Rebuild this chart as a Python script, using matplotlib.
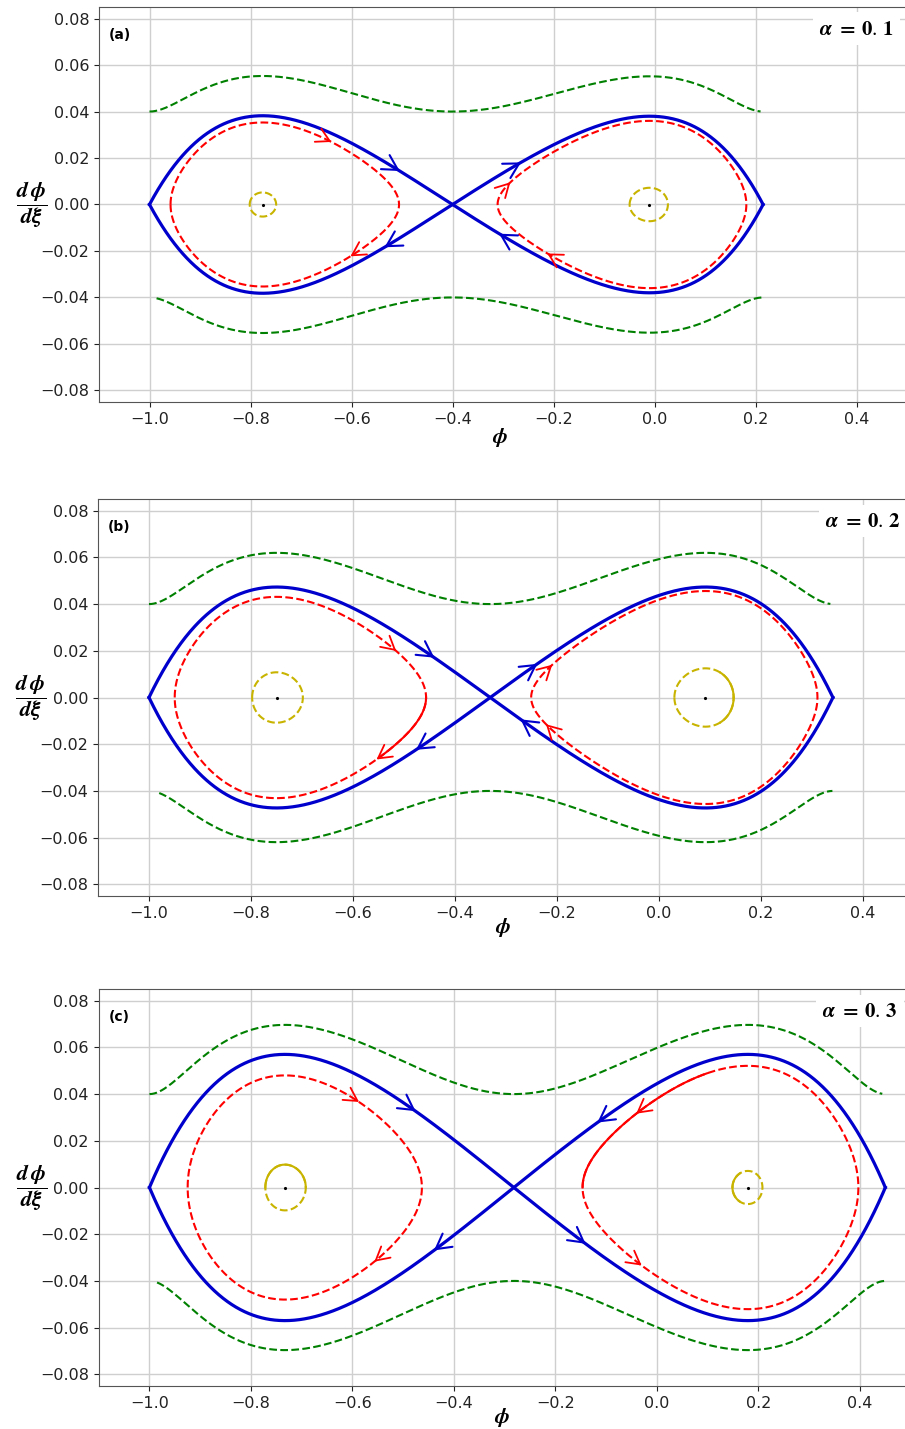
import numpy as np
import matplotlib
matplotlib.use('Agg')
import matplotlib.pyplot as plt
from numpy.polynomial import Polynomial

plt.rcParams['mathtext.fontset'] = 'stix'

# phase portraits for three values of alpha
alphas = ['0.1', '0.2', '0.3']
tags = ['(a)', '(b)', '(c)']

left_root = -1.0
saddle = [-0.400, -0.331, -0.282]
right_root = [0.215, 0.341, 0.450]
centre_left = [-0.776, -0.750, -0.733]
centre_right = [-0.010, 0.091, 0.179]
peak_left = [0.0382, 0.0473, 0.0570]
peak_right = [0.0380, 0.0473, 0.0570]

# outer (unbounded) orbits: |dphi/dxi| at the ends and at the saddle
outer_level = [0.040, 0.040, 0.040]
outer_top_span = [(-1.0, 0.210), (-1.0, 0.336), (-1.0, 0.444)]
outer_bot_span = [(-0.986, 0.212), (-0.980, 0.340), (-0.985, 0.450)]

# inner closed orbits (peak height) and small orbits round the centres (half height)
inner_left = [0.0353, 0.0431, 0.0480]
inner_right = [0.0360, 0.0456, 0.0521]
small_left = [0.0052, 0.0108, 0.0098]
small_right = [0.0072, 0.0125, 0.0071]

# arrows on the separatrix: (branch, phi, heading)
sep_arrows = [
    [(+1, -0.508, +1), (-1, -0.531, -1), (+1, -0.268, +1), (-1, -0.304, -1)],
    [(+1, -0.444, +1), (-1, -0.473, -1), (+1, -0.242, +1), (-1, -0.268, -1)],
    [(+1, -0.479, +1), (-1, -0.436, -1), (+1, -0.114, -1), (-1, -0.144, +1)],
]
# arrows on the inner orbits: (lobe, branch, phi, heading)
inner_arrows = [
    [(0, +1, -0.643, +1), (0, -1, -0.599, -1), (1, +1, -0.288, +1), (1, -1, -0.209, -1)],
    [(0, +1, -0.518, +1), (0, -1, -0.551, -1), (1, +1, -0.212, +1), (1, -1, -0.219, -1)],
    [(0, +1, -0.590, +1), (0, -1, -0.554, -1), (1, +1, -0.038, -1), (1, -1, -0.033, +1)],
]
# stretches where the dashed orbits came out solid: (orbit, lobe, branch, phi0, phi1)
solid_bits = [
    [],
    [('inner', 0, -1, -0.545, 1.0), ('small', 1, +1, 0.12, 1.0), ('small', 1, -1, 0.12, 1.0)],
    [('inner', 1, +1, -1.0, 0.10), ('small', 0, +1, -1.0, 1.0),
     ('small', 1, +1, -1.0, 0.163), ('small', 1, -1, -1.0, 0.163)],
]

BLUE = '#0000cd'
RED = 'red'
GREEN = 'green'
YELLOW = '#c8b400'


def separatrix(s, r, c1, c2, h1, h2):
    # P = (phi+1)(phi-s)(phi-r) Q(phi), Q cubic, extremes h1 at c1 and -h2 at c2
    R = Polynomial.fromroots([left_root, s, r])
    dR = R.deriv()
    rows, rhs = [], []
    for c, h in ((c1, h1), (c2, -h2)):
        rows.append([R(c) * c**k for k in range(4)])
        rhs.append(h)
        rows.append([dR(c) * c**k + (R(c) * k * c**(k - 1) if k else 0.0) for k in range(4)])
        rhs.append(0.0)
    q = np.linalg.solve(np.array(rows), np.array(rhs))
    return R * Polynomial(q)


def bisect(f, a, b):
    fa = f(a)
    for _ in range(80):
        m = 0.5 * (a + b)
        fm = f(m)
        if np.sign(fm) == np.sign(fa):
            a, fa = m, fm
        else:
            b = m
    return 0.5 * (a + b)


def closed_orbit(P, lo, hi, c, d, n=500):
    f = lambda x: P(x)**2 - d
    a = bisect(f, lo, c)
    b = bisect(f, c, hi)
    th = np.linspace(0, np.pi, n)
    x = a + (b - a) * (1 - np.cos(th)) / 2
    y = np.sqrt(np.clip(P(x)**2 - d, 0, None))
    return x, y


def arrow_head(ax, x, y, x0, y0, color, lw, size=17, half=29):
    # open V head at (x, y) pointing away from (x0, y0), sized in pixels
    T = ax.transData
    p = T.transform((x, y))
    q = T.transform((x0, y0))
    back = (q - p) / np.hypot(*(q - p))
    for ang in (np.radians(half), -np.radians(half)):
        rot = np.array([[np.cos(ang), -np.sin(ang)], [np.sin(ang), np.cos(ang)]])
        e = T.inverted().transform(p + size * rot @ back)
        ax.plot([x, e[0]], [y, e[1]], color=color, lw=lw, solid_capstyle='round', zorder=5)


fig = plt.figure(figsize=(9.05, 14.29), dpi=100)
boxes = [
    [99 / 905, 1027 / 1429, 808 / 905, 395 / 1429],
    [98 / 905, 533 / 1429, 816 / 905, 397 / 1429],
    [98.7 / 905, 43 / 1429, 812 / 905, 397 / 1429],
]
xlabel_y = [-0.062, -0.05, -0.05]

for i in range(3):
    ax = fig.add_axes(boxes[i])
    ax.set_xlim(-1.1, 0.5)
    ax.set_ylim(-0.085, 0.085)
    ax.set_xticks(np.arange(-1.0, 0.41, 0.2))
    ax.set_yticks(np.arange(-0.08, 0.081, 0.02))
    ax.tick_params(labelsize=11.5, colors='#222222')
    ax.grid(True, color='#cfcfcf', lw=1.0)
    for sp in ax.spines.values():
        sp.set_color('#555555')

    s, r = saddle[i], right_root[i]
    cl, cr = centre_left[i], centre_right[i]
    P = separatrix(s, r, cl, cr, peak_left[i], peak_right[i])
    lobes = [(left_root, s, cl, peak_left[i]), (s, r, cr, peak_right[i])]

    # outer orbits
    g2 = outer_level[i]**2
    x = np.linspace(*outer_top_span[i], 600)
    ax.plot(x, np.sqrt(P(x)**2 + g2), '--', color=GREEN, lw=1.5)
    x = np.linspace(*outer_bot_span[i], 600)
    ax.plot(x, -np.sqrt(P(x)**2 + g2), '--', color=GREEN, lw=1.5)

    # separatrix
    x = np.linspace(left_root, r, 1200)
    ax.plot(x, P(x), color=BLUE, lw=2.3)
    ax.plot(x, -P(x), color=BLUE, lw=2.3)

    # closed orbits inside each lobe
    orbits = {}
    for name, color, heights in (('inner', RED, (inner_left[i], inner_right[i])),
                                 ('small', YELLOW, (small_left[i], small_right[i]))):
        for k, (lo, hi, c, h) in enumerate(lobes):
            if name == 'inner':
                d = h**2 - heights[k]**2
            else:
                d = h**2 - heights[k]**2
            ox, oy = closed_orbit(P, lo, hi, c, d)
            orbits[(name, k)] = (ox, oy, d)
            ax.plot(np.r_[ox, ox[::-1]], np.r_[oy, -oy[::-1]], '--', color=color, lw=1.5)

    for name, k, br, p0, p1 in solid_bits[i]:
        ox, oy, _ = orbits[(name, k)]
        m = (ox >= p0) & (ox <= p1)
        color = RED if name == 'inner' else YELLOW
        ax.plot(ox[m], br * oy[m], color=color, lw=1.5)

    # centres
    ax.plot([cl, cr], [0, 0], 'k.', ms=2.5)

    dstep = 0.004
    for br, ph, hd in sep_arrows[i]:
        sign = np.sign(P(ph))
        yf = lambda t: br * sign * P(t)
        arrow_head(ax, ph, yf(ph), ph - hd * dstep, yf(ph - hd * dstep), BLUE, 1.5)

    for k, br, ph, hd in inner_arrows[i]:
        d = orbits[('inner', k)][2]
        yf = lambda t: br * np.sqrt(max(P(t)**2 - d, 0.0))
        arrow_head(ax, ph, yf(ph), ph - hd * dstep, yf(ph - hd * dstep), RED, 1.3, size=15)

    ax.text(0.012, 0.93, tags[i], transform=ax.transAxes, fontsize=10,
            fontweight='bold', ha='left', va='center')
    ax.text(0.984, 0.945, r'$\boldsymbol{\alpha\ =\ 0.\,' + alphas[i][-1] + '}$',
            transform=ax.transAxes, fontsize=15, ha='right', va='center',
            bbox=dict(boxstyle='square,pad=0.3', fc='white', ec='none'))

    ax.set_xlabel(r'$\boldsymbol{\phi}$', fontsize=16)
    ax.xaxis.set_label_coords(0.496, xlabel_y[i])
    ax.set_ylabel(r'$\dfrac{\boldsymbol{d\,\phi}}{\boldsymbol{d\xi}}$', fontsize=16,
                  rotation=0, ha='center', va='center')
    ax.yaxis.set_label_coords(-0.083, 0.5)

fig.savefig('out.png', dpi=100)
